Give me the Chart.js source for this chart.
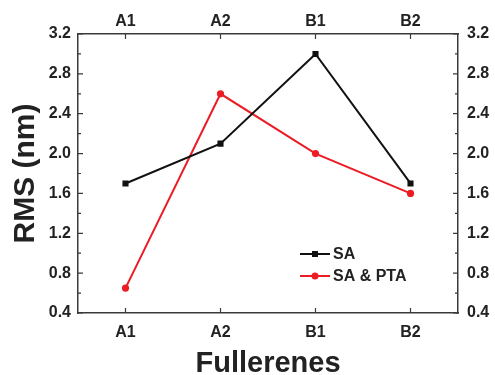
<!DOCTYPE html>
<html>
<head>
<meta charset="utf-8">
<script src="https://cdn.jsdelivr.net/npm/chart.js@4/dist/chart.umd.min.js"></script>
<style>
  html, body { margin: 0; padding: 0; background: #fff; overflow: hidden; }
  #wrap { width: 495px; height: 375px; }
  canvas { display: block; }
</style>
</head>
<body>
<div id="wrap"><canvas id="rms-chart" width="495" height="375"></canvas></div>
<script>
// --- data ---
const categories = ["A1", "A2", "B1", "B2"];
const saValues = [1.7, 2.1, 3.0, 1.7];
const saPtaValues = [0.65, 2.6, 2.0, 1.6];
const yTicks = [0.4, 0.8, 1.2, 1.6, 2.0, 2.4, 2.8, 3.2];

const FONT = "'Liberation Sans', Arial, sans-serif";
const INK = "#222";
const AXIS = "#3a3a3a";
const RED = "#ec1c24";

// ticks of the original point inward, so draw them by hand
const inwardTicks = {
  id: "inwardTicks",
  afterDatasetsDraw(chart) {
    const { ctx, chartArea: a, scales } = chart;
    ctx.save();
    ctx.strokeStyle = AXIS;
    ctx.lineWidth = 1.2;
    ctx.beginPath();
    categories.forEach((c, i) => {
      const x = scales.x.getPixelForValue(i);
      ctx.moveTo(x, a.bottom); ctx.lineTo(x, a.bottom - 5);
      ctx.moveTo(x, a.top); ctx.lineTo(x, a.top + 5);
    });
    yTicks.forEach((v, i) => {
      const y = scales.y.getPixelForValue(v);
      ctx.moveTo(a.left, y); ctx.lineTo(a.left + 5, y);
      ctx.moveTo(a.right, y); ctx.lineTo(a.right - 5, y);
      if (i < yTicks.length - 1) {
        const ym = scales.y.getPixelForValue((v + yTicks[i + 1]) / 2);
        ctx.moveTo(a.left, ym); ctx.lineTo(a.left + 3, ym);
        ctx.moveTo(a.right, ym); ctx.lineTo(a.right - 3, ym);
      }
    });
    ctx.stroke();
    ctx.restore();
  }
};

// legend sits inside the plot, lower right
const innerLegend = {
  id: "innerLegend",
  afterDraw(chart) {
    const { ctx, chartArea: a } = chart;
    const x0 = a.left + 222, y0 = a.bottom - 59;
    ctx.save();
    ctx.font = "bold 16px " + FONT;
    ctx.textBaseline = "middle";
    chart.data.datasets.forEach((ds, i) => {
      const y = y0 + i * 22;
      ctx.strokeStyle = ds.borderColor;
      ctx.lineWidth = 2;
      ctx.beginPath();
      ctx.moveTo(x0, y); ctx.lineTo(x0 + 30, y);
      ctx.stroke();
      ctx.fillStyle = ds.pointBackgroundColor;
      ctx.beginPath();
      if (ds.pointStyle === "rect") ctx.rect(x0 + 12, y - 3, 6, 6);
      else ctx.arc(x0 + 15, y, 3.5, 0, Math.PI * 2);
      ctx.fill();
      ctx.fillStyle = INK;
      ctx.fillText(ds.label, x0 + 33, y + 1);
    });
    ctx.restore();
  }
};

const tickFont = { family: FONT, size: 16, weight: "bold" };
const noGrid = { display: false, drawTicks: false };
const frame = { display: true, color: AXIS, width: 1.5 };

new Chart(document.getElementById("rms-chart"), {
  type: "line",
  data: {
    labels: categories,
    datasets: [
      {
        label: "SA",
        data: saValues,
        borderColor: "#111",
        backgroundColor: "#111",
        pointBackgroundColor: "#111",
        pointBorderWidth: 0,
        pointStyle: "rect",
        pointRadius: 4.3,
        borderWidth: 2,
        tension: 0,
      },
      {
        label: "SA & PTA",
        data: saPtaValues,
        borderColor: RED,
        backgroundColor: RED,
        pointBackgroundColor: RED,
        pointBorderWidth: 0,
        pointStyle: "circle",
        pointRadius: 3.6,
        borderWidth: 2,
        tension: 0,
      }
    ]
  },
  options: {
    responsive: false,
    animation: false,
    layout: { padding: 0 },
    plugins: { legend: { display: false }, tooltip: { enabled: false } },
    scales: {
      x: {
        type: "category",
        position: "bottom",
        offset: true,
        grid: noGrid,
        border: frame,
        ticks: { color: INK, font: tickFont, padding: 10, maxRotation: 0 },
        title: {
          display: true, text: "Fullerenes", color: INK,
          font: { family: FONT, size: 29, weight: "bold", lineHeight: 0.75 },
          padding: 0
        },
        afterFit: s => { s.height = 62; }
      },
      x2: {
        type: "category",
        position: "top",
        labels: categories,
        offset: true,
        grid: noGrid,
        border: frame,
        ticks: { color: INK, font: tickFont, padding: 3, maxRotation: 0 },
        afterFit: s => { s.height = 34; }
      },
      y: {
        type: "linear",
        position: "left",
        min: 0.4, max: 3.2,
        grid: noGrid,
        border: frame,
        afterBuildTicks: s => { s.ticks = yTicks.map(v => ({ value: v })); },
        ticks: { color: INK, font: tickFont, padding: 7, callback: v => v.toFixed(1) },
        title: {
          display: true, text: "RMS (nm)", color: INK,
          font: { family: FONT, size: 30, weight: "bold", lineHeight: 1 },
          padding: { top: 11, bottom: 0 }
        },
        afterFit: s => { s.width = 78; }
      },
      y2: {
        type: "linear",
        position: "right",
        min: 0.4, max: 3.2,
        grid: noGrid,
        border: frame,
        afterBuildTicks: s => { s.ticks = yTicks.map(v => ({ value: v })); },
        ticks: { color: INK, font: tickFont, padding: 9, callback: v => v.toFixed(1) },
        afterFit: s => { s.width = 37; }
      }
    }
  },
  plugins: [inwardTicks, innerLegend]
});
</script>
</body>
</html>
